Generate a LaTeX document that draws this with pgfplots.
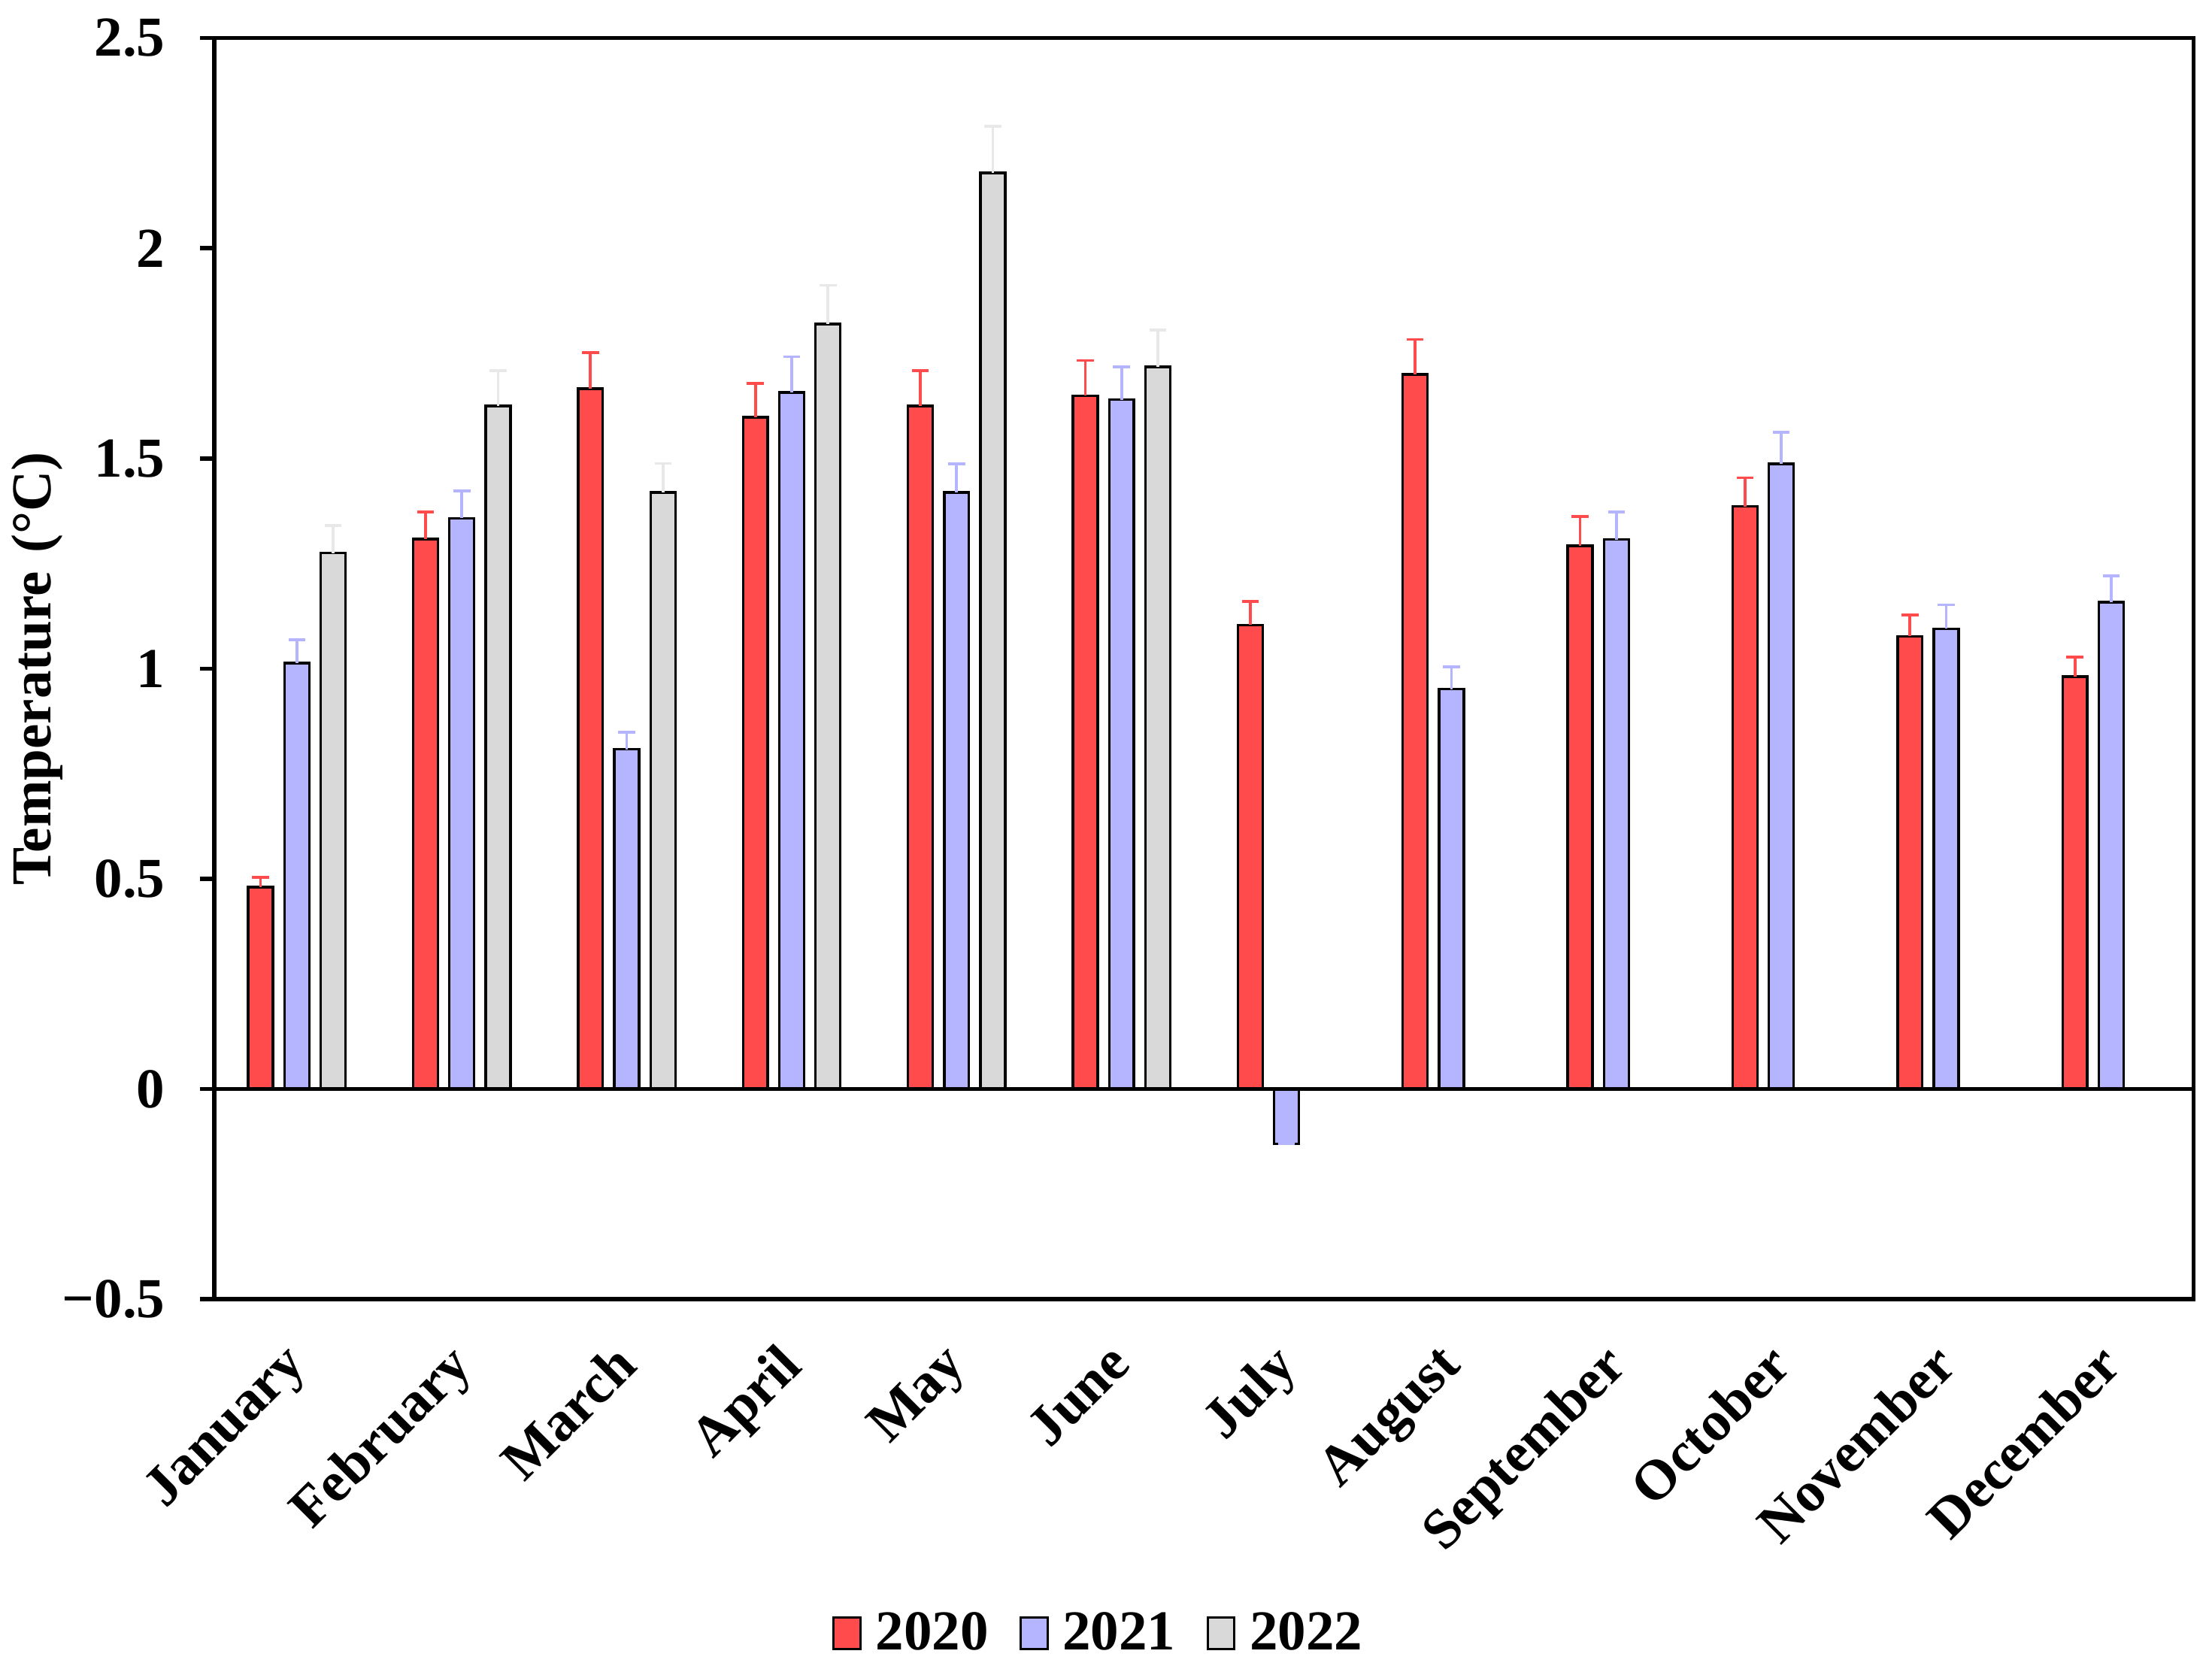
\documentclass[border=0pt]{standalone}
\usepackage{pgfplots}
\pgfplotsset{compat=1.18}
\usepackage{fontspec}
\setmainfont{Liberation Serif}

\definecolor{c2020}{RGB}{255,75,75}
\definecolor{c2021}{RGB}{180,180,255}
\definecolor{c2022}{RGB}{217,217,217}
\definecolor{e2022}{RGB}{232,232,232}

\newcommand{\bigbf}{\bfseries\fontsize{20}{24}\selectfont}

\begin{document}
\begin{tikzpicture}
\begin{axis}[
    at={(0,0)}, anchor=south west,
    scale only axis,
    width=701.5pt, height=447pt,
    ybar, bar width=0.15,
    xmin=-0.5, xmax=11.5,
    ymin=-0.5, ymax=2.5,
    ytick={-0.5,0,0.5,1,1.5,2,2.5},
    yticklabels={−0.5,0,0.5,1,1.5,2,2.5},
    xtick={0,...,11},
    xticklabels={January,February,March,April,May,June,July,August,September,October,November,December},
    xtick style={draw=none},
    ytick style={line width=1.5pt, black},
    tick align=outside, major tick length=5pt,
    ytick pos=left,
    axis line style={line width=1.5pt},
    tick label style={font=\bigbf},
    yticklabel style={xshift=-9pt},
    xticklabel style={xshift=-5.5pt, yshift=-9.5pt, rotate=45, anchor=north east, inner sep=0pt, font=\bigbf},
    ylabel={Temperature\,\,(°C)},
    ylabel style={font=\bigbf, at={(axis description cs:-0.0716,0.5)}, anchor=south},
    legend columns=3,
    legend style={draw=none, at={(axis description cs:0.4476,-0.265)}, anchor=center,
        font=\bigbf,
        /tikz/every odd column/.append style={column sep=3pt},
        /tikz/every even column/.append style={column sep=9pt}},
    legend image code/.code={\draw[#1, draw=black, line width=0.8pt] (0pt,-5.5pt) rectangle (9.5pt,5.5pt);},
    error bars/y dir=plus, error bars/y explicit,
]
\addplot[fill=c2020, draw=black, line width=0.9pt, bar shift=-0.22,
    error bars/error bar style={c2020, line width=1pt},
    error bars/error mark options={c2020, line width=1pt, mark size=3pt, rotate=90}]
coordinates {
 (0,0.48)  +- (0,0.024)
 (1,1.308) +- (0,0.064)
 (2,1.666) +- (0,0.086)
 (3,1.598) +- (0,0.080)
 (4,1.625) +- (0,0.084)
 (5,1.649) +- (0,0.084)
 (6,1.104) +- (0,0.056)
 (7,1.700) +- (0,0.083)
 (8,1.292) +- (0,0.070)
 (9,1.386) +- (0,0.068)
 (10,1.077) +- (0,0.051)
 (11,0.981) +- (0,0.047)
};
\addplot[fill=c2021, draw=black, line width=0.9pt, bar shift=0,
    error bars/error bar style={c2021, line width=1pt},
    error bars/error mark options={c2021, line width=1pt, mark size=3pt, rotate=90}]
coordinates {
 (0,1.013) +- (0,0.056)
 (1,1.358) +- (0,0.065)
 (2,0.808) +- (0,0.041)
 (3,1.657) +- (0,0.085)
 (4,1.419) +- (0,0.068)
 (5,1.640) +- (0,0.078)
 (6,-0.13) +- (0,0.0)
 (7,0.951) +- (0,0.053)
 (8,1.307) +- (0,0.065)
 (9,1.487) +- (0,0.075)
 (10,1.095) +- (0,0.057)
 (11,1.158) +- (0,0.062)
};
\addplot[fill=c2022, draw=black, line width=0.9pt, bar shift=0.22,
    error bars/error bar style={e2022, line width=1pt},
    error bars/error mark options={e2022, line width=1pt, mark size=3pt, rotate=90}]
coordinates {
 (0,1.275) +- (0,0.065)
 (1,1.625) +- (0,0.084)
 (2,1.419) +- (0,0.069)
 (3,1.820) +- (0,0.092)
 (4,2.179) +- (0,0.111)
 (5,1.718) +- (0,0.088)
};
\legend{2020,2021,2022}
\draw[line width=1.5pt] (axis cs:-0.5,0) -- (axis cs:11.5,0);
\end{axis}
\pgfresetboundingbox
\path (-76pt,-132pt) rectangle (708pt,460.5pt);
\end{tikzpicture}
\end{document}
